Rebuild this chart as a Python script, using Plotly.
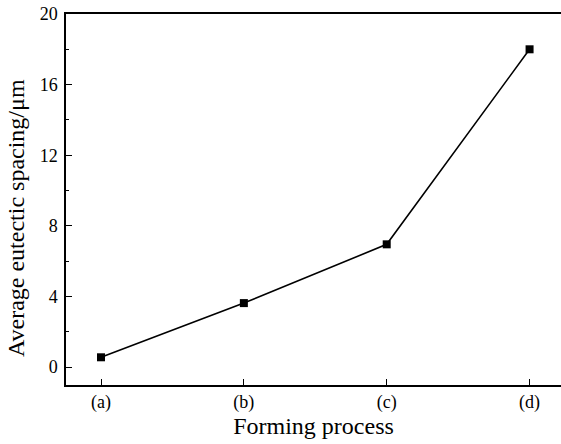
import plotly.graph_objects as go

categories = ["(a)", "(b)", "(c)", "(d)"]
spacing = [0.55, 3.62, 6.95, 18.0]
y_ticks = [0, 4, 8, 12, 16, 20]
y_minor = [2, 6, 10, 14, 18]

x_idx = list(range(len(categories)))

fig = go.Figure()
fig.add_trace(go.Scatter(
    x=x_idx, y=spacing, mode="lines+markers",
    line=dict(color="black", width=1.6),
    marker=dict(symbol="square", size=8, color="black"),
    showlegend=False,
))

font = "Liberation Serif"
fig.update_layout(
    width=561, height=444,
    margin=dict(l=66, r=0, t=14, b=59),
    paper_bgcolor="white", plot_bgcolor="white",
    font=dict(family=font, color="black", size=18),
)
fig.update_xaxes(
    range=[-0.245, 3.22], tickmode="array", tickvals=x_idx, ticktext=categories,
    showgrid=False, zeroline=False, showline=True, linecolor="black", linewidth=1.5,
    mirror=True, ticks="inside", ticklen=6, tickwidth=1.2, tickcolor="black",
    automargin=False,
    title=dict(text="Forming process", font=dict(size=24, family=font), standoff=4),
    tickfont=dict(size=18, family=font),
)
fig.update_yaxes(
    range=[-1.02, 20], tickmode="array", tickvals=y_ticks,
    showgrid=False, zeroline=False, showline=True, linecolor="black", linewidth=1.5,
    mirror=False, ticks="inside", ticklen=6, tickwidth=1.2, tickcolor="black",
    minor=dict(tickvals=y_minor, ticks="inside", ticklen=3, tickwidth=1.2, tickcolor="black"),
    automargin=False, ticklabelstandoff=3,
    tickfont=dict(size=18, family=font),
)
fig.add_annotation(
    text="Average eutectic spacing/μm", textangle=-90,
    xref="paper", yref="paper", x=-0.101, y=0.45,
    xanchor="center", yanchor="middle", showarrow=False,
    font=dict(size=24, family=font, color="black"),
)
fig.write_html(
    "out.html",
    config={"displayModeBar": False},
    post_script="document.body.style.margin='0';document.body.style.padding='0';",
)
